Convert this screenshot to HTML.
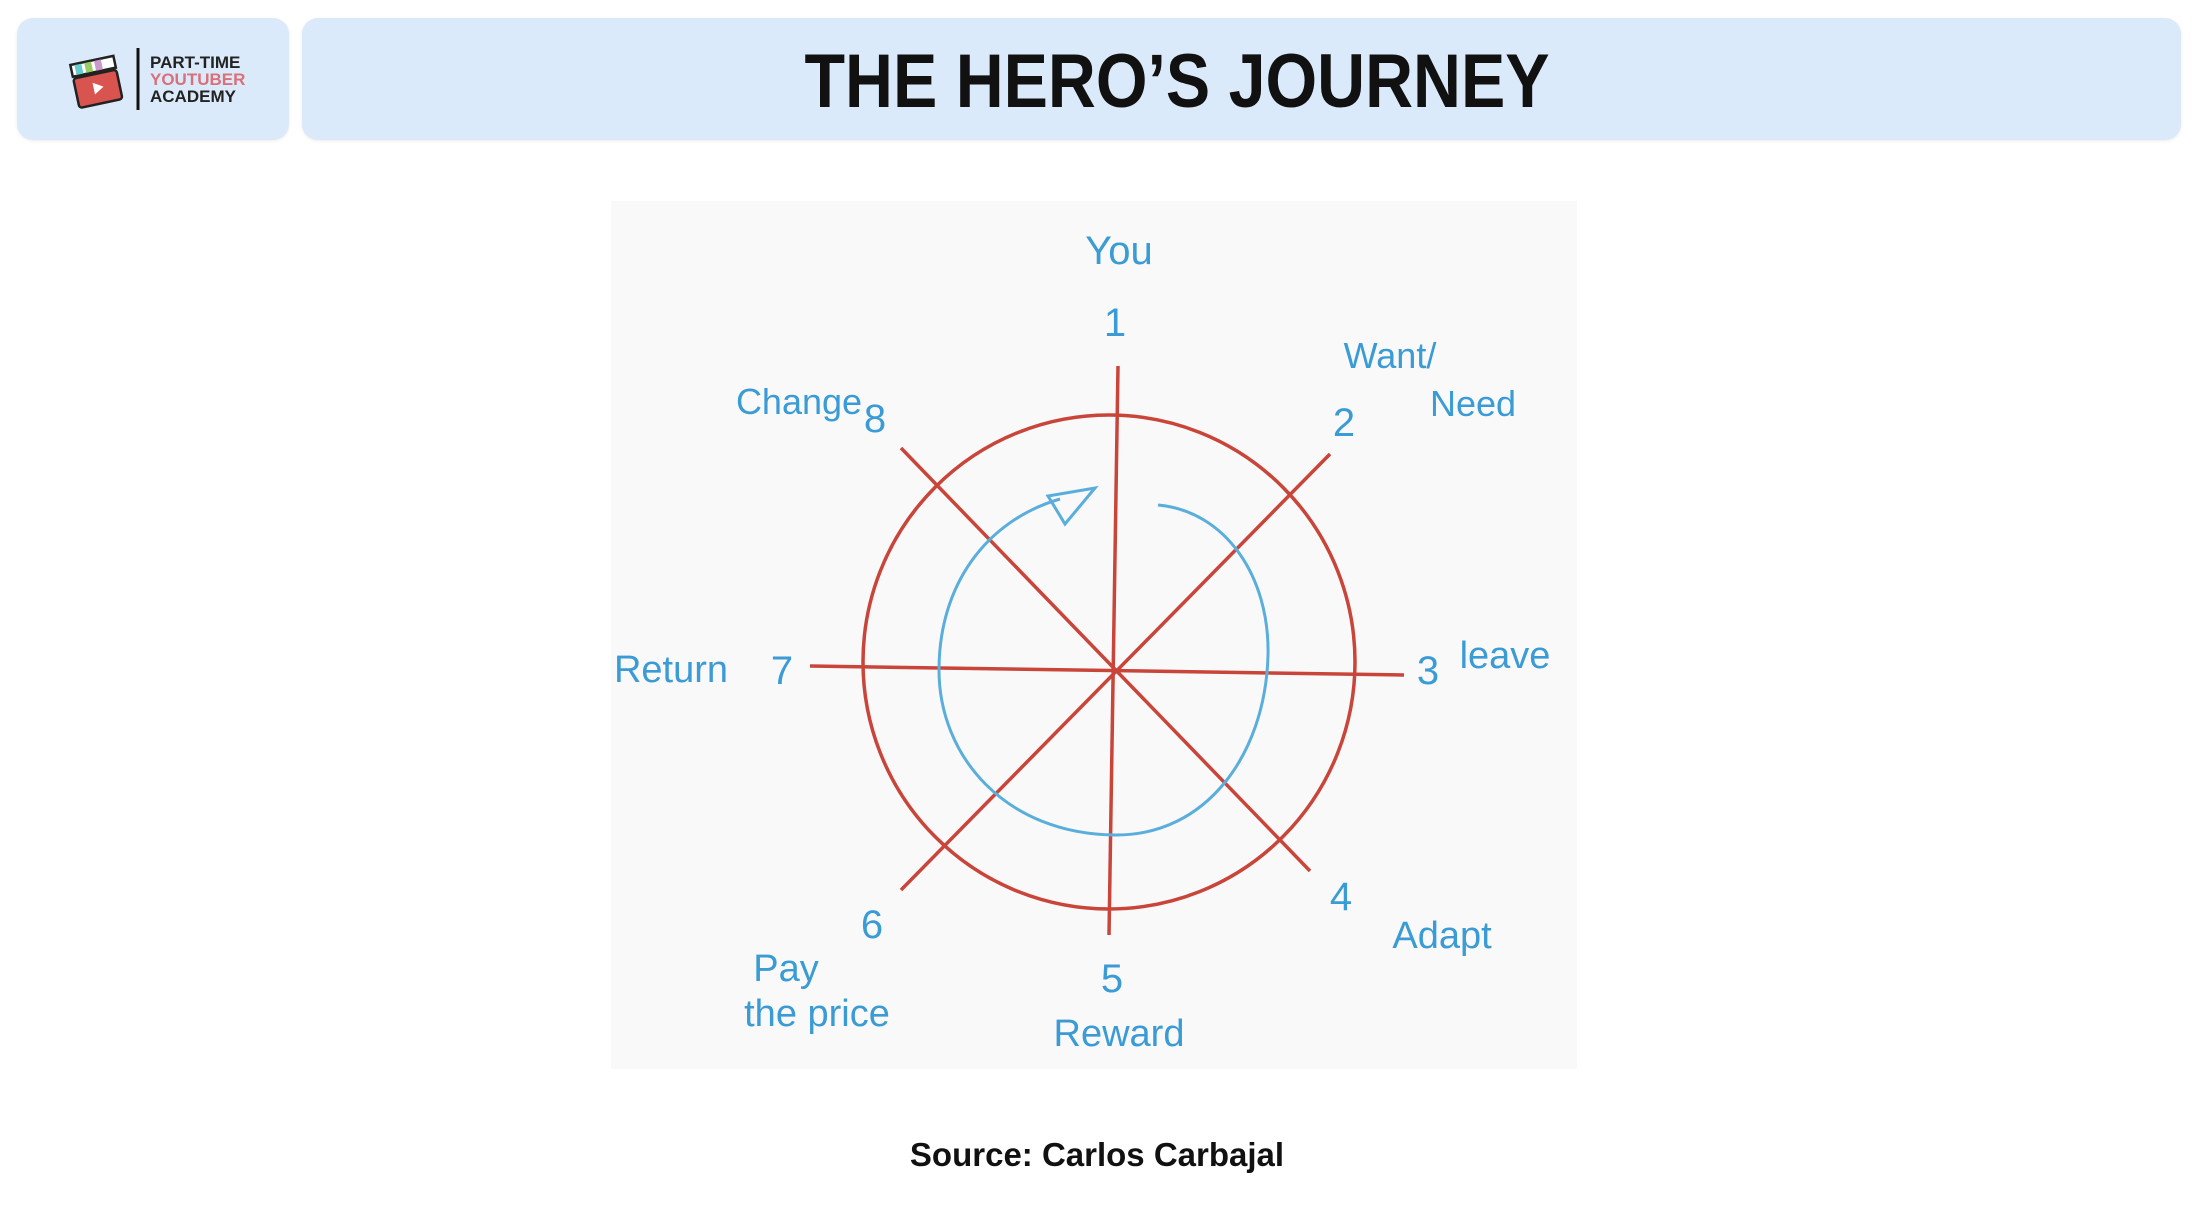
<!DOCTYPE html>
<html><head><meta charset="utf-8"><style>
html,body{margin:0;padding:0;background:#fff;}
body{width:2194px;height:1230px;position:relative;overflow:hidden;font-family:"Liberation Sans",sans-serif;}
.box{position:absolute;background:#dbeafa;border-radius:16px;box-shadow:0 1px 3px rgba(0,0,0,0.08);}
</style></head><body>
<div class="box" style="left:17px;top:18px;width:272px;height:122px;"></div>
<div class="box" style="left:302px;top:18px;width:1879px;height:122px;"></div>
<svg width="2194" height="1230" style="position:absolute;left:0;top:0">
  <g transform="translate(96,80) rotate(-12)">
    <rect x="-22" y="-6" width="44" height="30" rx="3" fill="#d9534f" stroke="#222" stroke-width="2.5"/>
    <rect x="-22" y="-20" width="44" height="12" fill="#fff" stroke="#222" stroke-width="2.5"/>
    <rect x="-18" y="-19" width="7" height="10" fill="#6cc"/>
    <rect x="-8" y="-19" width="7" height="10" fill="#9c6"/>
    <rect x="2" y="-19" width="7" height="10" fill="#c9c"/>
    <polygon points="-4,2 6,8 -4,14" fill="#fff"/>
  </g>
  <line x1="138" y1="48" x2="138" y2="110" stroke="#111" stroke-width="3"/>
  <text x="150" y="68" font-size="17" font-weight="bold" fill="#222">PART-TIME</text>
  <text x="150" y="85" font-size="17" font-weight="bold" fill="#d9707a">YOUTUBER</text>
  <text x="150" y="102" font-size="17" font-weight="bold" fill="#222">ACADEMY</text>
  <text x="1177" y="107" font-size="76" font-weight="bold" fill="#111" text-anchor="middle" textLength="745" lengthAdjust="spacingAndGlyphs">THE HERO’S JOURNEY</text>

  <rect x="611" y="201" width="966" height="868" fill="#f9f9f9"/>
  <g transform="translate(-5,-4)">
  <g stroke="#c9453a" stroke-width="3.5" fill="none">
    <ellipse cx="1114" cy="666" rx="246" ry="247"/>
    <line x1="1123" y1="370" x2="1114" y2="939"/>
    <line x1="815" y1="670" x2="1409" y2="679"/>
    <line x1="906" y1="452" x2="1315" y2="875"/>
    <line x1="1335" y1="458" x2="906" y2="894"/>
  </g>
  <g stroke="#5aaedc" stroke-width="3" fill="none">
    <path d="M1163,509 C1230,515 1275,580 1273,660 C1270,760 1210,840 1120,839 C1010,838 944,760 944,674 C944,590 990,525 1065,503"/>
    <polygon points="1053,500 1100,492 1070,528"/>
  </g>
  <g fill="#3a9bd5" font-size="40" text-anchor="middle" font-family="Liberation Sans, sans-serif">
    <text x="1124" y="268">You</text>
    <text x="1120" y="340">1</text>
    <text x="1395" y="372" font-size="36">Want/</text>
    <text x="1478" y="420" font-size="36">Need</text>
    <text x="1349" y="440">2</text>
    <text x="804" y="418" font-size="36">Change</text>
    <text x="880" y="436">8</text>
    <text x="676" y="686" font-size="38">Return</text>
    <text x="787" y="688">7</text>
    <text x="1433" y="688">3</text>
    <text x="1510" y="672" font-size="38">leave</text>
    <text x="1346" y="914">4</text>
    <text x="1447" y="952" font-size="38">Adapt</text>
    <text x="1117" y="996">5</text>
    <text x="1124" y="1050" font-size="38">Reward</text>
    <text x="877" y="942">6</text>
    <text x="791" y="985" font-size="38">Pay</text>
    <text x="822" y="1030" font-size="38">the price</text>
  </g>
  </g>
  <text x="1097" y="1166" font-size="33" font-weight="bold" fill="#111" text-anchor="middle">Source: Carlos Carbajal</text>
</svg>
</body></html>
